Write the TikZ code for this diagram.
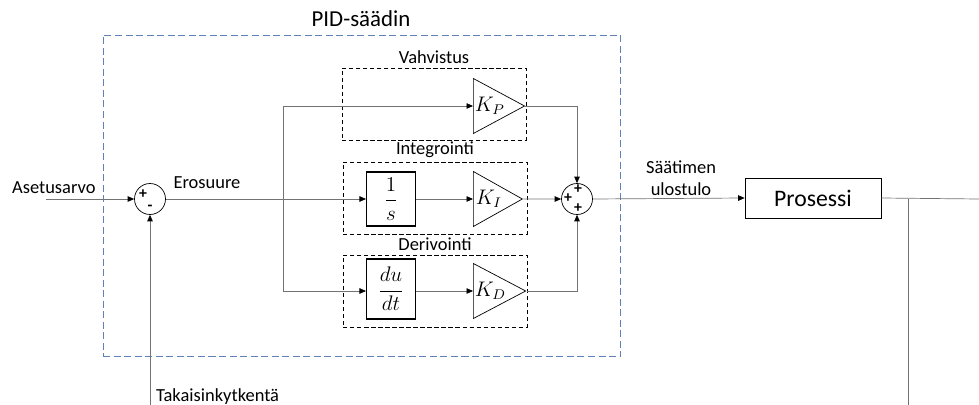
\documentclass[tikz,border=0pt]{standalone}
\usepackage{amsmath}
\usepackage{fontspec}
\setmainfont{Carlito}
\usetikzlibrary{arrows.meta, positioning, shapes.geometric}
\definecolor{pidBlue}{RGB}{96,128,186}

\begin{document}
\begin{tikzpicture}[x=0.02cm, y=-0.02cm,
    wire/.style={black!55, thin},
    sig/.style={wire, -{Triangle[black, length=1.3mm, width=1.1mm]}},
    gain/.style={isosceles triangle, isosceles triangle stretches, draw, thin, inner sep=0pt,
      minimum width=1.1cm, minimum height=0.98cm, anchor=west, font=\large},
    blk/.style={rectangle, draw, semithick, inner sep=0pt, minimum width=0.98cm, minimum height=1.08cm},
    summer/.style={circle, draw, thin, minimum size=0.62cm, inner sep=0pt},
    grp/.style={rectangle, draw, dash pattern=on 2.5pt off 1.5pt, thin, minimum width=3.68cm, minimum height=1.44cm},
    sign/.style={font=\small\bfseries, inner sep=0pt},
    txt/.style={font=\fontsize{10.5}{12.5}\selectfont, inner sep=1pt}]
  \useasboundingbox (0,0) rectangle (979,405);
  % PID box
  \node[draw=pidBlue, dash pattern=on 4pt off 2pt, semithick, minimum width=10.36cm, minimum height=6.44cm] (pid) at (362,196) {};
  \node[font=\fontsize{13}{15}\selectfont] (pidlbl) at (361,19) {PID-säädin};
  % groups
  \node[grp] (g1) at (434,104) {};
  \node[grp] (g2) at (435,198) {};
  \node[grp] (g3) at (435,291) {};
  \node[txt, above=1pt of g1] (g1l) {Vahvistus};
  \node[txt, above=1pt of g2] (g2l) {Integrointi};
  \node[txt, above=1pt of g3] (g3l) {Derivointi};
  % blocks
  \node[gain] (kp) at (473,106) {$K_P$};
  \node[gain] (ki) at (473,199) {$K_I$};
  \node[gain] (kd) at (473,291) {$K_D$};
  \node[blk] (inte) at (391,199) {\large$\dfrac{1}{s}$};
  \node[blk, minimum height=1.2cm] (der) at (391,289) {\large$\dfrac{du}{dt}$};
  \node[summer] (s1) at (150,199) {};
  \node[summer] (s2) at (577,199) {};
  \node[sign] (s1p) at (143,194) {+};
  \node[sign] (s1m) at (150,208) {-};
  \node[sign] (s2t) at (578,189) {+};
  \node[sign] (s2l) at (568,198) {+};
  \node[sign] (s2b) at (578,208) {+};
  \node[draw, thin, minimum width=2.72cm, minimum height=0.8cm, font=\fontsize{13.5}{16}\selectfont] (proc) at (813,198) {Prosessi};
  % labels
  \node[txt, anchor=west] (setp) at (10,188) {Asetusarvo};
  \node[txt] (err) at (207,183) {Erosuure};
  \node[txt, align=center] (uout) at (681,178) {Säätimen\\ulostulo};
  \node[txt, anchor=west] (fbl) at (154,397) {Takaisinkytkentä};
  % coordinates
  \coordinate (in) at (46,199);
  \coordinate (br) at (283,199);
  \coordinate (brT) at (283,106);
  \coordinate (brB) at (283,291);
  \coordinate (fb) at (150,405);
  \coordinate (tap) at (908,199);
  \coordinate (tapEnd) at (908,405);
  \coordinate (out) at (979,199);
  % wires
  \draw[sig] (in) -- (s1.west);
  \draw[sig] (fb) -- (s1.south);
  \draw[wire] (s1.east) -- (br);
  \draw[wire] (brT) -- (brB);
  \draw[sig] (brT) -- (kp.west);
  \draw[sig] (br) -- (inte.west);
  \draw[sig] (inte.east) -- (ki.west);
  \draw[sig] (brB) -- (der.west |- brB);
  \draw[sig] (der.east |- brB) -- (kd.west);
  \draw[sig] (kp.east) -| (s2.north);
  \draw[sig] (ki.east) -- (s2.west);
  \draw[sig] (kd.east) -| (s2.south);
  \draw[sig] (s2.east) -- (proc.west);
  \draw[wire] (proc.east) -- (out);
  \draw[wire] (tap) -- (tapEnd);
\end{tikzpicture}
\end{document}
